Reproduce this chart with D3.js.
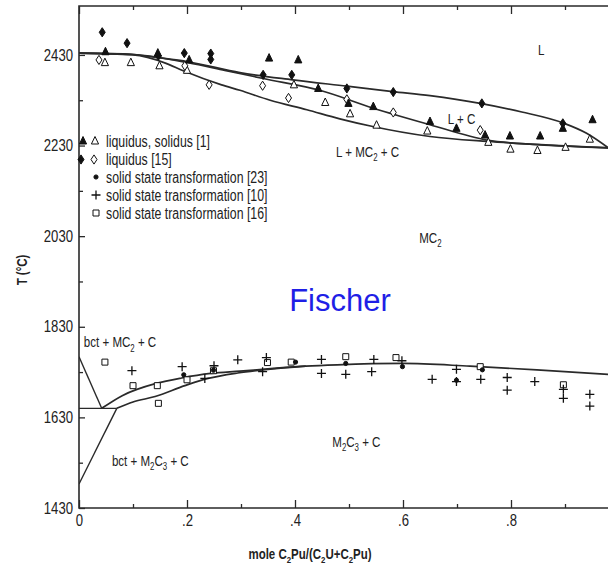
<!DOCTYPE html>
<html><head><meta charset="utf-8">
<script src="https://cdn.jsdelivr.net/npm/d3@7"></script>
<style>body{margin:0;background:#fff}svg{display:block}</style>
</head><body><svg id="c" width="608" height="573"></svg>
<script>
// ---------- tick values ----------
const xMajorTicks = [0, 0.2, 0.4, 0.6, 0.8];
const xMinorTicks = [0.1, 0.3, 0.5, 0.7, 0.9];
const yMajorTicks = [1430, 1630, 1830, 2030, 2230, 2430];
const yMinorTicks = [1530, 1730, 1930, 2130, 2330];

// ---------- phase boundary curves [x, T] ----------
const liquidusCurve = [[0,2434],[0.09,2432],[0.146,2424],[0.202,2415],[0.298,2391],[0.396,2375],[0.496,2361],[0.581,2349],[0.65,2340],[0.743,2323],[0.82,2304],[0.896,2280],[0.94,2257],[0.98,2225]];
const lcBoundary = [[0,2434],[0.1,2431],[0.202,2413],[0.27,2396],[0.341,2378],[0.446,2352],[0.544,2313],[0.65,2276],[0.756,2242],[0.85,2232],[0.98,2225]];
const solidusCurve = [[0,2434],[0.1,2430],[0.16,2412],[0.193,2395],[0.264,2364],[0.298,2352],[0.354,2330],[0.422,2309],[0.483,2289],[0.544,2272],[0.65,2250],[0.756,2239],[0.87,2231],[0.98,2225]];
const upperSolvus = [[0.042,1650],[0.08,1678],[0.143,1705],[0.19,1717],[0.244,1727],[0.298,1732],[0.36,1738],[0.42,1743],[0.478,1746],[0.6,1749],[0.724,1743],[0.848,1735],[0.98,1725]];
const lowerSolvus = [[0.07,1650],[0.1,1664],[0.141,1676],[0.196,1700],[0.239,1716],[0.294,1728],[0.35,1736],[0.42,1743]];
const eutectoidLine = [[0,1650],[0.07,1650]];
const bctUpperBoundary = [[0,1764],[0.042,1650]];
const bctLowerBoundary = [[0.07,1650],[0,1483]];

// ---------- experimental points [x, T] ----------
const liquidus1 = [[0.049,2437],[0.146,2434],[0.204,2419],[0.352,2423],[0.406,2419],[0.443,2356],[0.499,2323],[0.545,2316],[0.65,2283],[0.699,2268],[0.752,2253],[0.798,2251],[0.854,2251],[0.896,2268],[0.951,2287]];
const solidus1 = [[0.048,2413],[0.096,2413],[0.149,2406],[0.2,2396],[0.398,2364],[0.456,2325],[0.502,2300],[0.551,2275],[0.645,2262],[0.758,2237],[0.799,2222],[0.849,2219],[0.901,2226],[0.946,2244]];
const liquidus15Filled = [[0.043,2480],[0.089,2456],[0.147,2428],[0.195,2434],[0.244,2433],[0.244,2420],[0.341,2386],[0.394,2386],[0.496,2356],[0.582,2348],[0.746,2323],[0.896,2279]];
const liquidus15Open = [[0.037,2419],[0.196,2406],[0.241,2364],[0.34,2362],[0.388,2335],[0.496,2332],[0.582,2303],[0.743,2264]];
const solid23 = [[0.194,1724],[0.249,1734],[0.401,1752],[0.494,1749],[0.599,1742],[0.699,1712],[0.747,1735]];
const solid10 = [[0.098,1733],[0.191,1742],[0.233,1716],[0.25,1744],[0.294,1757],[0.34,1731],[0.347,1762],[0.449,1758],[0.449,1727],[0.494,1725],[0.546,1758],[0.542,1731],[0.598,1755],[0.654,1714],[0.699,1736],[0.699,1709],[0.744,1714],[0.793,1718],[0.793,1690],[0.844,1709],[0.897,1692],[0.897,1672],[0.946,1681],[0.946,1655]];
const solid16 = [[0.048,1752],[0.1,1700],[0.145,1700],[0.147,1661],[0.2,1713],[0.249,1733],[0.349,1751],[0.393,1752],[0.494,1764],[0.587,1762],[0.743,1742],[0.897,1702]];

// ---------- legend & labels ----------
const legendLabels = ["liquidus, solidus [1]", "liquidus [15]", "solid state transformation [23]", "solid state transformation [10]", "solid state transformation [16]"];
const xTitle = "mole C_2Pu/(C_2U+C_2Pu)";
const yTitle = "T (°C)";
const watermark = "Fischer";

// ---------- setup ----------
const FONT = "'Liberation Sans',Arial,sans-serif";
const NARROW = 0.82; // condensed look of the original lettering
const svg = d3.select("#c");
const pL = 79, pR = 607, pT = 6, pB = 508;
const x = d3.scaleLinear().domain([0, 1]).range([pL, 619]);
const y = d3.scaleLinear().domain([1430, 2538]).range([pB, pT]);
const INK = "#2a2a2a";

function narrow(sel, k){
  const s = k || NARROW;
  sel.each(function(){
    const t = d3.select(this);
    const ax = +t.attr("x") || 0;
    const prev = t.attr("transform") || "";
    t.attr("transform", `${prev} translate(${ax},0) scale(${s},1) translate(${-ax},0)`);
  });
}

svg.append("defs").append("clipPath").attr("id","clip")
  .append("rect").attr("x",pL).attr("y",pT).attr("width",pR-pL+1).attr("height",pB-pT);

// axes
const fmtX = d => d === 0 ? "0" : d3.format(".1f")(d).replace(/^0/, "");
function styleAxis(g){
  g.select(".domain").remove();
  g.selectAll("line").attr("stroke", INK).attr("stroke-width", 1.3);
  g.selectAll("text").attr("font-family", FONT).attr("font-size", 16).attr("fill", "#222").call(narrow);
}
svg.append("g").attr("transform",`translate(0,${pB})`)
  .call(d3.axisBottom(x).tickValues(xMajorTicks).tickSize(-8).tickPadding(7).tickFormat(fmtX)).call(styleAxis);
svg.append("g").attr("transform",`translate(0,${pB})`)
  .call(d3.axisBottom(x).tickValues(xMinorTicks).tickSize(-4).tickFormat("")).call(styleAxis);
svg.append("g").attr("transform",`translate(0,${pT})`)
  .call(d3.axisTop(x).tickValues(xMajorTicks).tickSize(-8).tickFormat("")).call(styleAxis);
svg.append("g").attr("transform",`translate(0,${pT})`)
  .call(d3.axisTop(x).tickValues(xMinorTicks).tickSize(-4).tickFormat("")).call(styleAxis);
svg.append("g").attr("transform",`translate(${pL},0)`)
  .call(d3.axisLeft(y).tickValues(yMajorTicks).tickSize(-6).tickPadding(6).tickFormat(d3.format("d"))).call(styleAxis);
svg.append("g").attr("transform",`translate(${pL},0)`)
  .call(d3.axisLeft(y).tickValues(yMinorTicks).tickSize(-4).tickFormat("")).call(styleAxis);

// frame (left, top, bottom)
svg.append("path").attr("d",`M${608},${pT}H${pL}V${pB}H${608}`)
  .attr("fill","none").attr("stroke",INK).attr("stroke-width",1.6);

// curves
const plot = svg.append("g").attr("clip-path","url(#clip)");
const smooth = d3.line().x(d=>x(d[0])).y(d=>y(d[1])).curve(d3.curveMonotoneX);
const straight = d3.line().x(d=>x(d[0])).y(d=>y(d[1]));
[liquidusCurve, lcBoundary, solidusCurve, upperSolvus, lowerSolvus].forEach(c=>{
  plot.append("path").attr("d", smooth(c)).attr("fill","none").attr("stroke",INK).attr("stroke-width",1.7);
});
[eutectoidLine, bctUpperBoundary, bctLowerBoundary].forEach(c=>{
  plot.append("path").attr("d", straight(c)).attr("fill","none").attr("stroke",INK).attr("stroke-width",1.4);
});

// marker shapes
const shapes = {
  triangle: (cx,cy)=>`M${cx},${cy-4.5}L${cx+3.6},${cy+3}L${cx-3.6},${cy+3}Z`,
  diamond: (cx,cy)=>`M${cx},${cy-4.6}L${cx+3},${cy}L${cx},${cy+4.6}L${cx-3},${cy}Z`,
  square: (cx,cy)=>`M${cx-3},${cy-3}h6v6h-6Z`,
  plus: (cx,cy)=>`M${cx-4.5},${cy}h9M${cx},${cy-4.5}v9`,
  dot: (cx,cy)=>`M${cx-2.1},${cy}a2.1,2.1 0 1,0 4.2,0a2.1,2.1 0 1,0 -4.2,0Z`
};
function drawMarkers(g, data, shape, filled){
  g.selectAll(null).data(data).enter().append("path")
    .attr("d", d => shapes[shape](x(d[0]), y(d[1])))
    .attr("fill", shape==="plus" ? "none" : (filled ? "#111" : "#fff"))
    .attr("stroke", "#111").attr("stroke-width", shape==="plus" ? 1.3 : 1);
}
drawMarkers(plot, solidus1, "triangle", false);
drawMarkers(plot, liquidus15Open, "diamond", false);
drawMarkers(plot, liquidus1, "triangle", true);
drawMarkers(plot, liquidus15Filled, "diamond", true);
drawMarkers(plot, solid16, "square", false);
drawMarkers(plot, solid10, "plus", false);
drawMarkers(plot, solid23, "dot", true);

// legend
const leg = svg.append("g");
const legY = [141, 159.5, 177, 195, 213];
leg.append("path").attr("d", shapes.triangle(83, legY[0])).attr("fill","#111").attr("stroke","#111");
leg.append("path").attr("d", shapes.triangle(95, legY[0])).attr("fill","#fff").attr("stroke","#111");
leg.append("path").attr("d", shapes.diamond(81, legY[1])).attr("fill","#111").attr("stroke","#111");
leg.append("path").attr("d", shapes.diamond(94, legY[1])).attr("fill","#fff").attr("stroke","#111");
leg.append("path").attr("d", shapes.dot(96, legY[2])).attr("fill","#111").attr("stroke","#111");
leg.append("path").attr("d", shapes.plus(96, legY[3])).attr("fill","none").attr("stroke","#111").attr("stroke-width",1.3);
leg.append("path").attr("d", shapes.square(96, legY[4])).attr("fill","#fff").attr("stroke","#111");
leg.selectAll("text").data(legendLabels).enter().append("text")
  .attr("x", 106).attr("y", (d,i)=>legY[i]+6)
  .attr("font-family", FONT).attr("font-size", 16).attr("fill","#222").text(d=>d).call(narrow, 0.77);

// text with subscripts helper: "_2" => subscript 2
function richText(sel, str, size){
  const parts = str.split(/(_\d)/).filter(s=>s.length);
  let sub = false;
  parts.forEach(p=>{
    if (p[0]==="_"){
      sel.append("tspan").attr("dy", size*0.3).attr("font-size", size*0.68).text(p.slice(1));
      sub = true;
    } else {
      sel.append("tspan").attr("dy", sub ? -size*0.3 : 0).text(p);
      sub = false;
    }
  });
}
const phaseLabels = [
  {t:"L", x:0.85, T:2430},
  {t:"L + C", x:0.683, T:2278},
  {t:"L + MC_2 + C", x:0.476, T:2205},
  {t:"MC_2", x:0.63, T:2015},
  {t:"bct + MC_2 + C", x:0.009, T:1785},
  {t:"bct + M_2C_3 + C", x:0.061, T:1523},
  {t:"M_2C_3 + C", x:0.469, T:1565}
];
phaseLabels.forEach(l=>{
  const t = svg.append("text").attr("x", x(l.x)).attr("y", y(l.T))
    .attr("font-family", FONT).attr("font-size", 15).attr("fill","#222");
  richText(t, l.t, 15);
  t.call(narrow, 0.77);
});

// axis titles
const xt = svg.append("text").attr("x", 310).attr("y", 559).attr("text-anchor","middle")
  .attr("font-family", FONT).attr("font-size", 14).attr("font-weight","bold").attr("fill","#222");
richText(xt, xTitle, 14);
xt.call(narrow);
svg.append("text").attr("transform",`translate(27,270) rotate(-90) scale(${NARROW},1)`).attr("text-anchor","middle")
  .attr("font-family", FONT).attr("font-size", 14).attr("font-weight","bold").attr("fill","#222").text(yTitle);

// watermark
svg.append("text").attr("x", 340).attr("y", 311).attr("text-anchor","middle")
  .attr("font-family","'Liberation Sans',Arial,sans-serif").attr("font-size", 31).attr("fill","#1f1fe6").text(watermark);
</script></body></html>
